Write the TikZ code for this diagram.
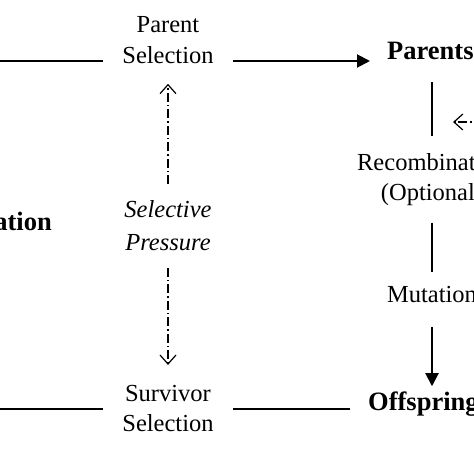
\documentclass[tikz,border=0pt]{standalone}
\usepackage{fontspec}
\setmainfont{Liberation Serif}
\usetikzlibrary{arrows.meta}
\begin{document}
\begin{tikzpicture}[x=1pt,y=-1pt,
  lbl/.style={font=\fontsize{24.5}{30.5}\selectfont, align=center},
  blbl/.style={font=\fontsize{26.5}{32}\selectfont\bfseries},
  conn/.style={line width=1.9pt},
  arr/.style={conn, -{Triangle[length=13pt,width=13pt]}},
  press/.style={line width=1.2pt, dash pattern=on 9pt off 3pt on 1.5pt off 3pt,
                -{Straight Barb[length=9pt,width=16pt,line width=1.2pt]}}
]
\clip (0,0) rectangle (474,474);
\useasboundingbox (0,0) rectangle (474,474);
\fill[white] (0,0) rectangle (474,474);

% columns and levels
\coordinate (col) at (432,0);
\coordinate (tl) at (-10,61);
\coordinate (bl) at (-10,409);
\coordinate (rr) at (500,122);
\coordinate (rt) at (453,122);

% nodes
\node[lbl, inner xsep=19pt, inner ysep=20pt] (ps) at (168,40.2) {Parent\\Selection};
\node[lbl, inner xsep=19pt, inner ysep=20pt] (ss) at (168,408.6) {Survivor\\Selection};
\node[lbl, inner sep=16.6pt, font=\fontsize{24.5}{33}\selectfont\itshape] (sp) at (168,226) {Selective\\Pressure};
\node[blbl, inner sep=0pt, anchor=base east] (pop) at (52,230) {Population};
\node[blbl, inner xsep=17pt, inner ysep=23pt, anchor=base west] (par) at (370,59) {Parents};
\node[lbl, inner ysep=16.6pt] (rec) at (432,179.4) {Recombination\\(Optional)};
\node[lbl, inner ysep=14pt, anchor=base] (mut) at (432,302) {Mutation};
\node[blbl, inner xsep=18pt, inner ysep=4.9pt, anchor=base west] (off) at (350,410) {Offspring};

% connectors
\draw[conn] (tl) -- (tl -| ps.west);
\draw[arr] (tl -| ps.east) -- (tl -| par.west);
\draw[conn] (col |- par.south) -- (col |- rec.north);
\draw[conn] (col |- rec.south) -- (col |- mut.north);
\draw[arr, shorten <=11pt] (col |- mut.south) -- (col |- off.north);
\draw[conn] (bl -| off.west) -- (bl -| ss.east);
\draw[conn] (bl -| ss.west) -- (bl);
\draw[press] (sp.north) -- (ps.south);
\draw[press] (sp.south) -- (ss.north);
\draw[press] (rr) -- (rt);
\end{tikzpicture}
\end{document}
